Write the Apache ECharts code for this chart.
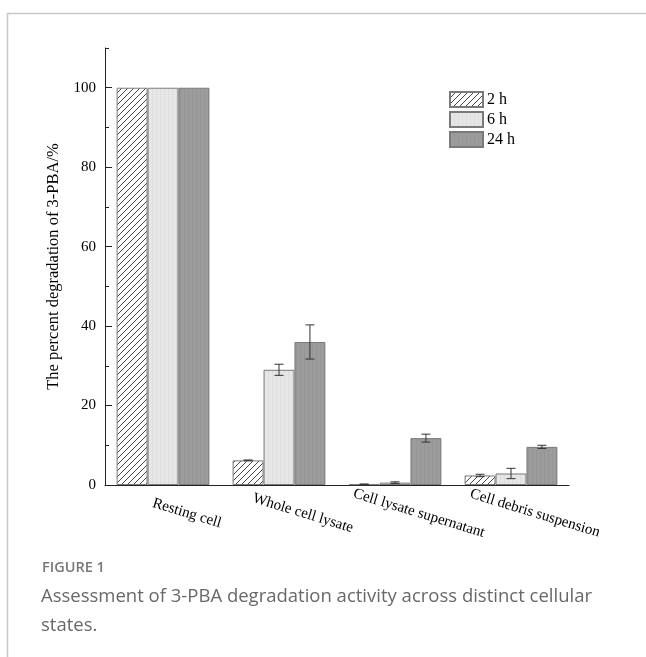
<!DOCTYPE html>
<html>
<head>
<meta charset="utf-8">
<script src="https://cdn.jsdelivr.net/npm/echarts@6/dist/echarts.min.js"></script>
<style>
  html, body { margin: 0; padding: 0; background: #fff; }
  #chart { width: 646px; height: 657px; }
</style>
</head>
<body>
<div id="chart"></div>
<script>
// Cellular states and degradation percentages (mean and standard deviation)
const categories = ['Resting cell', 'Whole cell lysate', 'Cell lysate supernatant', 'Cell debris suspension'];
const seriesNames = ['2 h', '6 h', '24 h'];
const values2h = [100, 6.2, 0.2, 2.4];
const values6h = [100, 29.0, 0.6, 2.9];
const values24h = [100, 36.0, 11.8, 9.6];
const errors2h = [0, 0.1, 0.05, 0.3];
const errors6h = [0, 1.4, 0.2, 1.3];
const errors24h = [0, 4.3, 1.0, 0.4];
const yTickLabels = [0, 20, 40, 60, 80, 100];

const serif = '"Liberation Serif", "Times New Roman", serif';

// Fill patterns for the bars
function hatchPattern() {
  const c = document.createElement('canvas');
  c.width = 6; c.height = 6;
  const g = c.getContext('2d');
  g.fillStyle = '#ffffff';
  g.fillRect(0, 0, 6, 6);
  g.strokeStyle = '#333333';
  g.lineWidth = 0.9;
  g.beginPath();
  g.moveTo(0, 6); g.lineTo(6, 0);
  g.moveTo(-1, 1); g.lineTo(1, -1);
  g.moveTo(5, 7); g.lineTo(7, 5);
  g.stroke();
  return c;
}
function texturePattern(base, line) {
  const c = document.createElement('canvas');
  c.width = 4; c.height = 4;
  const g = c.getContext('2d');
  g.fillStyle = base;
  g.fillRect(0, 0, 4, 4);
  g.fillStyle = line;
  g.fillRect(0, 0, 1, 4);
  return c;
}

const fills = [
  { image: hatchPattern(), repeat: 'repeat' },
  { image: texturePattern('#e6e6e6', '#dedede'), repeat: 'repeat' },
  { image: texturePattern('#9c9c9c', '#959595'), repeat: 'repeat' }
];
const valueSets = [values2h, values6h, values24h];
const errorSets = [errors2h, errors6h, errors24h];

const barGapRatio = 0.2; // matches barCategoryGap below
const barSeries = seriesNames.map((name, i) => ({
  name: name,
  type: 'bar',
  yAxisIndex: 0,
  barGap: '0%',
  barCategoryGap: '20%',
  data: valueSets[i],
  itemStyle: { color: fills[i], borderColor: '#7a7a7a', borderWidth: 1 },
  emphasis: { disabled: true },
  z: 2
}));

// Error bars placed over each bar of the group
const errorSeries = seriesNames.map((name, i) => ({
  name: name + ' error',
  type: 'custom',
  yAxisIndex: 0,
  z: 5,
  silent: true,
  data: valueSets[i].map((v, k) => [k, v, errorSets[i][k]]),
  renderItem: function (params, api) {
    const k = api.value(0);
    const v = api.value(1);
    const e = api.value(2);
    if (!e) return { type: 'group', children: [] };
    const band = api.size([1, 0])[0];
    const barW = band * (1 - barGapRatio) / seriesNames.length;
    const offset = (i - (seriesNames.length - 1) / 2) * barW;
    const hi = api.coord([k, v + e]);
    const lo = api.coord([k, Math.max(v - e, 0)]);
    const x = hi[0] + offset;
    const cap = 4.5;
    const style = { stroke: '#333333', lineWidth: 1 };
    return {
      type: 'group',
      children: [
        { type: 'line', shape: { x1: x, y1: hi[1], x2: x, y2: lo[1] }, style: style },
        { type: 'line', shape: { x1: x - cap, y1: hi[1], x2: x + cap, y2: hi[1] }, style: style },
        { type: 'line', shape: { x1: x - cap, y1: lo[1], x2: x + cap, y2: lo[1] }, style: style }
      ]
    };
  }
}));

const chart = echarts.init(document.getElementById('chart'), null, { renderer: 'canvas' });
chart.setOption({
  backgroundColor: '#ffffff',
  animation: false,
  grid: { left: 105, right: 77, top: 48, bottom: 172, containLabel: false },
  legend: {
    data: seriesNames,
    orient: 'vertical',
    left: 449,
    top: 91,
    padding: 0,
    itemWidth: 33,
    itemHeight: 15,
    itemGap: 3,
    icon: 'rect',
    selectedMode: false,
    textStyle: { fontFamily: serif, fontSize: 16, color: '#000', padding: [0, 0, 0, -1] }
  },
  xAxis: {
    type: 'category',
    data: categories,
    boundaryGap: true,
    axisLine: { lineStyle: { color: '#222', width: 1 } },
    axisTick: { alignWithLabel: true, length: 7, lineStyle: { color: '#222' } },
    axisLabel: {
      rotate: -17,
      align: 'center',
      verticalAlign: 'middle',
      margin: 21,
      padding: [0, 0, 0, 50],
      fontFamily: serif,
      fontSize: 15,
      color: '#000',
      interval: 0
    }
  },
  yAxis: [
    {
      type: 'value',
      min: 0,
      max: 110,
      interval: 10,
      name: 'The percent degradation of 3-PBA/%',
      nameLocation: 'middle',
      nameGap: 37,
      nameTextStyle: { fontFamily: serif, fontSize: 16.5, color: '#000' },
      axisLine: { show: true, lineStyle: { color: '#222', width: 1 } },
      axisTick: { show: true, inside: true, length: 4, lineStyle: { color: '#222' } },
      axisLabel: {
        margin: 9,
        fontFamily: serif,
        fontSize: 15,
        color: '#000',
        formatter: function (v) { return yTickLabels.indexOf(v) >= 0 ? String(v) : ''; }
      },
      splitLine: { show: false }
    },
    {
      type: 'value',
      min: 0,
      max: 110,
      position: 'left',
      axisLine: { show: false },
      axisTick: { show: true, inside: true, length: 7, customValues: yTickLabels, lineStyle: { color: '#222' } },
      axisLabel: { show: false },
      splitLine: { show: false }
    }
  ],
  series: barSeries.concat(errorSeries),
  graphic: [
    {
      type: 'line', silent: true,
      shape: { x1: 7, y1: 13.5, x2: 646, y2: 13.5 },
      style: { stroke: '#c8c8c8', lineWidth: 1.5 }
    },
    {
      type: 'line', silent: true,
      shape: { x1: 7.5, y1: 13, x2: 7.5, y2: 657 },
      style: { stroke: '#c8c8c8', lineWidth: 1.5 }
    },
    {
      type: 'text', left: 42, top: 560, silent: true,
      style: { text: 'FIGURE 1', fill: '#777777', font: '600 14.5px "Open Sans", sans-serif' }
    },
    {
      type: 'text', left: 41, top: 582, silent: true,
      style: {
        text: 'Assessment of 3-PBA degradation activity across distinct cellular\nstates.',
        fill: '#686868',
        font: '18.5px "Open Sans", sans-serif',
        lineHeight: 29
      }
    }
  ]
});
</script>
</body>
</html>
